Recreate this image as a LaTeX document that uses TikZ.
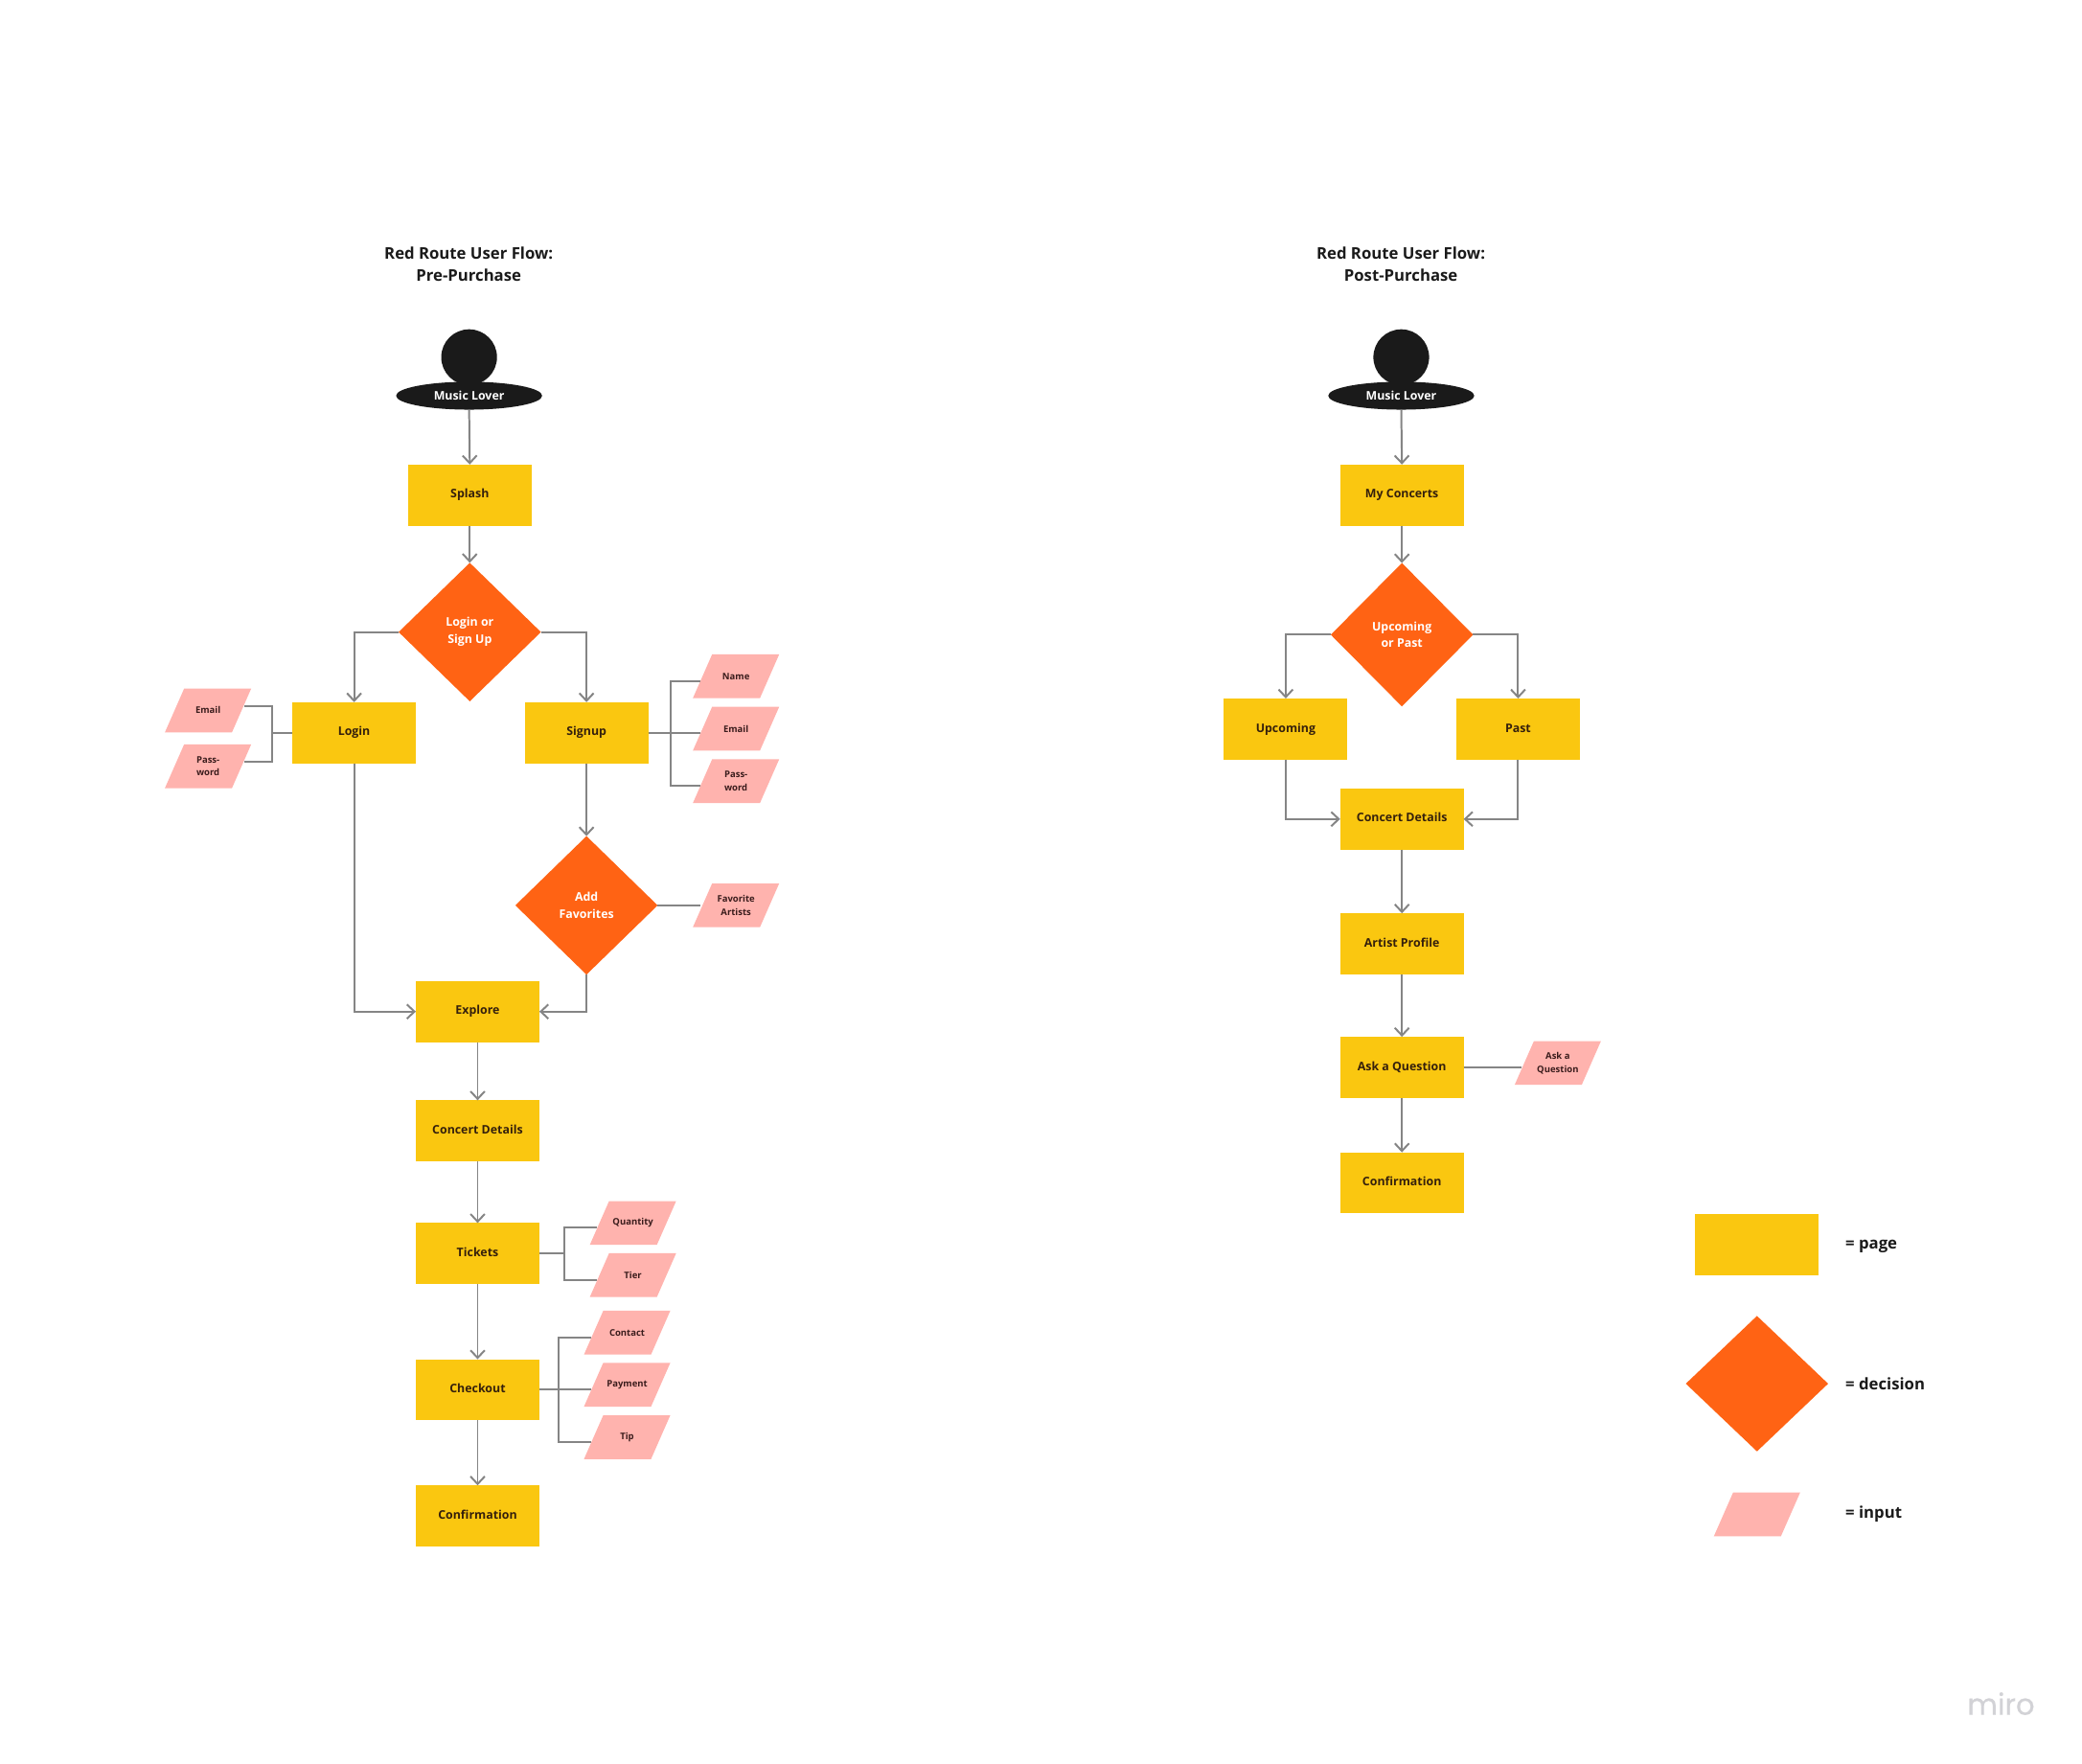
\documentclass[tikz,border=0pt]{standalone}
\usepackage{fontspec}
\setmainfont{Open Sans}
\newfontfamily\mirofont[FakeBold=0.5]{Poppins}
\usetikzlibrary{arrows.meta,shapes.geometric,calc}
\definecolor{pageY}{HTML}{FAC710}
\definecolor{decO}{HTML}{FF6314}
\definecolor{inpP}{HTML}{FFB3AE}
\definecolor{inkD}{HTML}{1A1A1A}
\definecolor{inkB}{HTML}{35200C}
\definecolor{inkP}{HTML}{3A1C1C}
\definecolor{lineG}{HTML}{858585}
\definecolor{miroG}{HTML}{D2D2D6}
\tikzset{
  pagebox/.style={rectangle,fill=pageY,text=inkB,minimum width=65.1pt,minimum height=32.2pt,inner sep=0pt,outer sep=0pt,align=center,execute at begin node=\strut,font=\fontsize{6.25pt}{8pt}\selectfont\bfseries},
  decbox/.style={diamond,fill=decO,text=white,minimum width=75pt,minimum height=73pt,inner sep=0pt,outer sep=0pt,align=center,font=\fontsize{6.25pt}{9pt}\selectfont\bfseries},
  inpbox/.style={rectangle,minimum width=38pt,minimum height=23.1pt,inner sep=0pt,outer sep=0pt,align=center,text=inkP,font=\fontsize{4.8pt}{7pt}\selectfont\bfseries},
  inpshape/.style={fill=inpP},
  headshape/.style={ellipse,fill=inkD,minimum width=29.4pt,minimum height=29.4pt,inner sep=0pt,outer sep=0pt},
  baseshape/.style={ellipse,fill=inkD,text=white,minimum width=77pt,minimum height=14.7pt,inner sep=0pt,outer sep=0pt,font=\fontsize{6.25pt}{8pt}\selectfont\bfseries},
  titletext/.style={align=center,text=inkD,inner sep=0pt,font=\fontsize{8.45pt}{12pt}\selectfont\bfseries},
  legendtext/.style={anchor=west,text=inkD,inner sep=0pt,font=\fontsize{8.45pt}{10pt}\selectfont\bfseries},
  lnk/.style={draw=lineG,line width=1pt},
  arr/.style={lnk,-{Straight Barb[length=4pt,width=7.5pt,line width=1pt]}},
}
% name, x, y, text
\newcommand{\inpnode}[4]{%
  \fill[inpshape,shift={(#2,#3)}] (-32.5,16.5) -- (18,16.5) -- (32.5,-16.5) -- (-18,-16.5) -- cycle;
  \node[inpbox] (#1) at (#2,#3) {#4};}
\begin{document}
\begin{tikzpicture}[x=0.7pt,y=-0.7pt]
\useasboundingbox (0,0) rectangle (1568,1328);
\fill[white] (0,0) rectangle (1568,1328);

% ---------- left flow
\node[titletext] (titleA) at (353,199) {Red Route User Flow:\\Pre-Purchase};
\node[headshape] (headA) at (353.3,269) {};
\node[baseshape] (userA) at (353.3,298) {Music Lover};
\node[pagebox] (splash) at (353.8,372.8) {Splash};
\node[decbox] (dLogin) at (353.8,476) {Login or\\Sign Up};
\node[pagebox] (login) at (266.7,551.8) {Login};
\node[pagebox] (signup) at (441.7,551.8) {Signup};
\node[decbox] (dFav) at (441.7,681.8) {Add\\Favorites};
\node[pagebox] (explore) at (359.7,761.8) {Explore};
\node[pagebox] (detailsA) at (359.7,851.6) {Concert Details};
\node[pagebox] (tickets) at (359.7,944) {Tickets};
\node[pagebox] (checkout) at (359.7,1046.6) {Checkout};
\node[pagebox] (confirmA) at (359.7,1141.6) {Confirmation};

\inpnode{iEmailL}{156.7}{535}{Email}
\inpnode{iPassL}{156.7}{577}{Pass-\\word}
\inpnode{iName}{554.3}{509.3}{Name}
\inpnode{iEmailS}{554.3}{548.8}{Email}
\inpnode{iPassS}{554.3}{588.3}{Pass-\\word}
\inpnode{iFav}{554.3}{681.8}{Favorite\\Artists}
\inpnode{iQty}{476.7}{921}{Quantity}
\inpnode{iTier}{476.7}{960.3}{Tier}
\inpnode{iContact}{472.3}{1003.6}{Contact}
\inpnode{iPay}{472.3}{1042.8}{Payment}
\inpnode{iTip}{472.3}{1082.3}{Tip}

\draw[arr] (userA.south) -- (splash.north);
\draw[arr] (splash.south) -- (dLogin.north);
\draw[arr] (dLogin.west) -| (login.north);
\draw[arr] (dLogin.east) -| (signup.north);
\draw[arr] (signup.south) -- (dFav.north);
\draw[arr] (login.south) |- (explore.west);
\draw[arr] (dFav.south) |- (explore.east);
\draw[arr] (explore.south) -- (detailsA.north);
\draw[arr] (detailsA.south) -- (tickets.north);
\draw[arr] (tickets.south) -- (checkout.north);
\draw[arr] (checkout.south) -- (confirmA.north);

\coordinate (busL) at (205,551.8);
\draw[lnk] (login.west) -- (busL);
\draw[lnk] ($(iEmailL.east)+(0,-3)$) -| (busL);
\draw[lnk] ($(iPassL.east)+(0,-3)$) -| (busL);
\coordinate (busS) at (505,551.8);
\draw[lnk] (signup.east) -- (iEmailS.west |- busS);
\draw[lnk] ($(iName.west)+(0,3.5)$) -| (busS);
\draw[lnk] ($(iPassS.west)+(0,3.5)$) -| (busS);
\draw[lnk] (dFav.east) -- (iFav.west);
\coordinate (busT) at (425,944);
\draw[lnk] (tickets.east) -- (busT);
\draw[lnk] ($(iQty.west)+(0,3.5)$) -| (busT);
\draw[lnk] ($(iTier.west)+(0,3.5)$) -| (busT);
\coordinate (busC) at (421,1046.6);
\draw[lnk] (checkout.east) -- (iPay.west |- busC);
\draw[lnk] ($(iContact.west)+(0,3.5)$) -| (busC);
\draw[lnk] ($(iTip.west)+(0,3.5)$) -| (busC);

% ---------- right flow
\node[titletext] (titleB) at (1055,199) {Red Route User Flow:\\Post-Purchase};
\node[headshape] (headB) at (1055.3,269) {};
\node[baseshape] (userB) at (1055.3,298) {Music Lover};
\node[pagebox] (concerts) at (1055.8,372.8) {My Concerts};
\node[decbox,minimum height=75.6pt] (dUp) at (1055.8,478) {Upcoming\\or Past};
\node[pagebox] (upcoming) at (968.3,549) {Upcoming};
\node[pagebox] (past) at (1143.3,549) {Past};
\node[pagebox] (detailsB) at (1055.8,616.8) {Concert Details};
\node[pagebox] (artist) at (1055.8,710.8) {Artist Profile};
\node[pagebox] (ask) at (1055.8,803.8) {Ask a Question};
\node[pagebox] (confirmB) at (1055.8,890.8) {Confirmation};
\inpnode{iAsk}{1173.2}{800.5}{Ask a\\Question}

\draw[arr] (userB.south) -- (concerts.north);
\draw[arr] (concerts.south) -- (dUp.north);
\draw[arr] (dUp.west) -| (upcoming.north);
\draw[arr] (dUp.east) -| (past.north);
\draw[arr] (upcoming.south) |- (detailsB.west);
\draw[arr] (past.south) |- (detailsB.east);
\draw[arr] (detailsB.south) -- (artist.north);
\draw[arr] (artist.south) -- (ask.north);
\draw[arr] (ask.south) -- (confirmB.north);
\draw[lnk] (ask.east) -- (iAsk.west |- ask.east);

% ---------- legend
\node[pagebox] (lgPage) at (1322.8,937.5) {};
\node[decbox,minimum height=71.4pt] (lgDec) at (1323.2,1042) {};
\fill[inpshape,shift={(1323.2,1140.5)}] (-32.5,16.5) -- (18,16.5) -- (32.5,-16.5) -- (-18,-16.5) -- cycle;
\node[legendtext] (lgT1) at (1389.6,938.5) {= page};
\node[legendtext] (lgT2) at (1389.6,1042) {= decision};
\node[legendtext] (lgT3) at (1389.6,1140) {= input};

\node[text=miroG,inner sep=0pt,font=\fontsize{15.5pt}{16pt}\mirofont] (miro) at (1507,1283) {miro};
\end{tikzpicture}
\end{document}
